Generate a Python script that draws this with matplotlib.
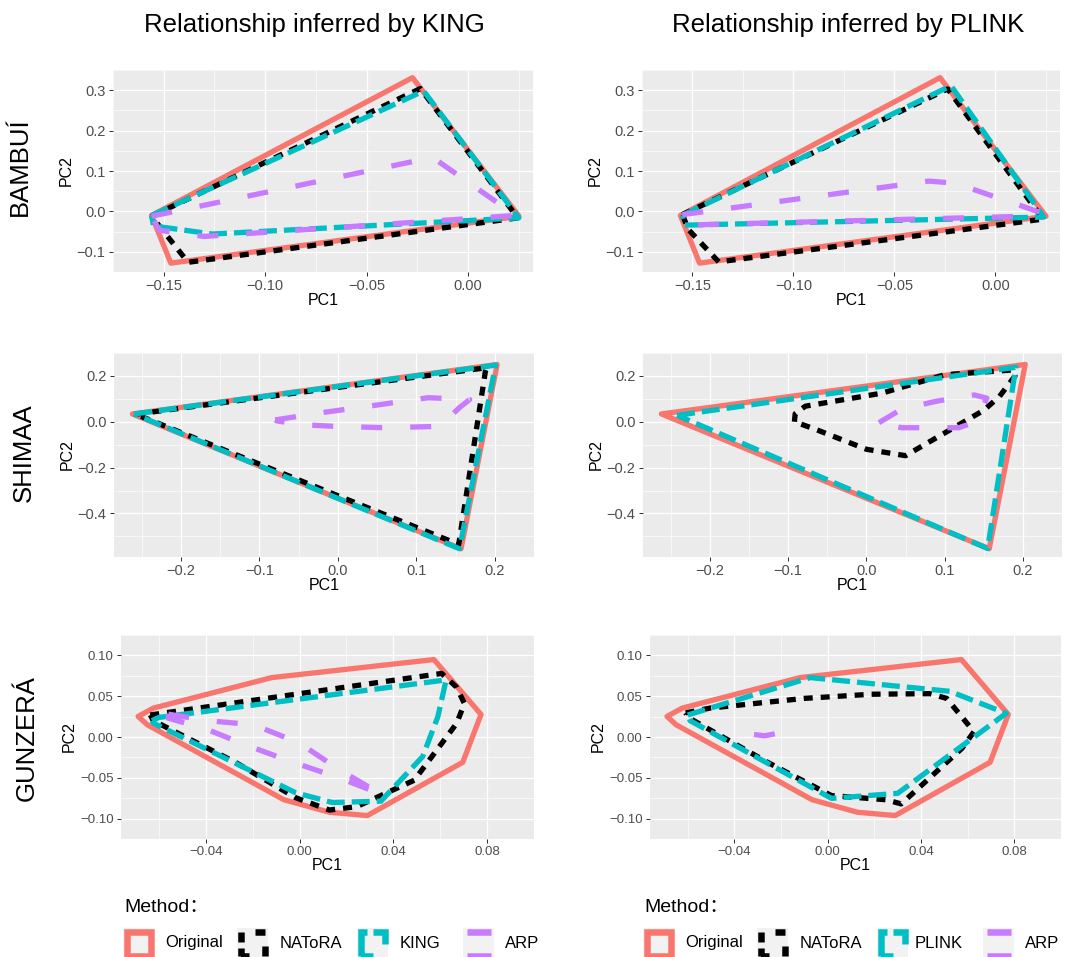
import matplotlib
matplotlib.use('Agg')
import matplotlib.pyplot as plt
from matplotlib.patches import Polygon, Rectangle

plt.rcParams['font.family'] = ['Liberation Sans', 'Noto Sans CJK SC', 'DejaVu Sans']
plt.rcParams['lines.scale_dashes'] = False

# ---------------- data (PC1, PC2 hull vertices) ----------------
original_bambui = [(-0.156, -0.010), (-0.0274, 0.331), (0.0251, -0.012), (-0.1465, -0.128)]
natora_bambui_king = [(-0.156, -0.012), (-0.0235, 0.304), (0.0245, -0.016), (-0.138, -0.126)]
king_bambui = [(-0.156, -0.010), (-0.0219, 0.298), (0.025, -0.016), (-0.126, -0.056), (-0.155, -0.036)]
arp_bambui_king = [(-0.156, -0.012), (-0.019, 0.132), (-0.015, 0.125), (0.0235, -0.010),
                   (-0.130, -0.062), (-0.152, -0.047)]
natora_bambui_plink = [(-0.155, -0.008), (-0.0236, 0.303), (0.0236, -0.019), (-0.137, -0.125),
                       (-0.152, -0.045)]
plink_bambui = [(-0.155, -0.010), (-0.022, 0.311), (0.024, -0.014), (-0.154, -0.034)]
arp_bambui_plink = [(-0.155, -0.008), (-0.033, 0.075), (-0.020, 0.070), (0.022, -0.002),
                    (0.015, -0.012), (-0.154, -0.034)]

original_shimaa = [(-0.262, 0.034), (0.203, 0.250), (0.157, -0.554)]
natora_shimaa_king = [(-0.258, 0.033), (0.190, 0.236), (0.188, 0.220), (0.154, -0.535)]
king_shimaa = [(-0.260, 0.034), (0.201, 0.247), (0.155, -0.554)]
arp_shimaa_king = [(-0.080, 0.008), (-0.020, 0.040), (0.050, 0.073), (0.115, 0.105), (0.168, 0.097),
                   (0.155, 0.062), (0.130, -0.020), (0.060, -0.026), (-0.010, -0.019),
                   (-0.050, -0.012), (-0.078, 0.004)]
natora_shimaa_plink = [(-0.092, 0.000), (-0.091, 0.035), (-0.078, 0.068), (0.020, 0.125),
                       (0.100, 0.205), (0.187, 0.226), (0.190, 0.200), (0.170, 0.110),
                       (0.150, 0.050), (0.050, -0.148), (0.000, -0.120), (-0.065, -0.033)]
plink_shimaa = [(-0.242, 0.028), (0.191, 0.238), (0.155, -0.553)]
arp_shimaa_plink = [(0.016, -0.004), (0.045, 0.055), (0.090, 0.090), (0.138, 0.117), (0.154, 0.103),
                    (0.142, 0.020), (0.130, -0.012), (0.118, -0.026), (0.045, -0.026)]

original_gunzera = [(-0.0689, 0.0252), (-0.0624, 0.0354), (-0.0119, 0.0728), (0.0573, 0.0949),
                    (0.0774, 0.0276), (0.0696, -0.0310), (0.0289, -0.0963), (0.0127, -0.0922),
                    (-0.0067, -0.0769), (-0.0650, 0.0150)]
natora_gunzera_king = [(-0.0637, 0.0270), (0.0606, 0.0779), (0.0670, 0.0610), (0.0703, 0.0410),
                       (0.0670, 0.0167), (0.0489, -0.0530), (0.0243, -0.0854), (0.0127, -0.0895),
                       (-0.0016, -0.0745), (-0.0274, -0.0310), (-0.0624, 0.0200)]
king_gunzera = [(-0.0630, 0.0200), (-0.0600, 0.0240), (0.0625, 0.0700), (0.0590, 0.0250),
                (0.0525, -0.0240), (0.0347, -0.0786), (0.0140, -0.0803), (-0.0016, -0.0684),
                (-0.0624, 0.0170)]
arp_gunzera_king = [(-0.0560, 0.0280), (-0.0390, 0.0200), (-0.0197, 0.0150), (-0.0003, -0.0070),
                    (0.0166, -0.0395), (0.0347, -0.0700), (0.0166, -0.0497), (-0.0028, -0.0310),
                    (-0.0223, -0.0105), (-0.0400, 0.0099), (-0.0560, 0.0230)]
natora_gunzera_plink = [(-0.0609, 0.0296), (-0.0505, 0.0354), (-0.0101, 0.0473), (0.0185, 0.0524),
                        (0.0438, 0.0531), (0.0510, 0.0473), (0.0588, 0.0200), (0.0627, 0.0065),
                        (0.0575, -0.0140), (0.0315, -0.0820), (0.0250, -0.0769), (0.0016, -0.0718),
                        (-0.0258, -0.0310), (-0.0596, 0.0235)]
plink_gunzera = [(-0.0600, 0.0270), (-0.0075, 0.0728), (0.0523, 0.0560), (0.0765, 0.0290),
                 (0.0300, -0.0690), (0.0016, -0.0752), (-0.0590, 0.0200)]
arp_gunzera_plink = [(-0.0316, 0.0030), (-0.0270, 0.0015), (-0.0225, 0.0040)]

# axes ticks / labels
bambui_xticks = [-0.15, -0.10, -0.05, 0.00]
bambui_xlabels = ['\u22120.15', '\u22120.10', '\u22120.05', '0.00']
bambui_yticks = [-0.1, 0.0, 0.1, 0.2, 0.3]
bambui_ylabels = ['\u22120.1', '0.0', '0.1', '0.2', '0.3']
shimaa_xticks = [-0.2, -0.1, 0.0, 0.1, 0.2]
shimaa_xlabels = ['\u22120.2', '\u22120.1', '0.0', '0.1', '0.2']
shimaa_yticks = [-0.4, -0.2, 0.0, 0.2]
shimaa_ylabels = ['\u22120.4', '\u22120.2', '0.0', '0.2']
gunzera_xticks = [-0.04, 0.00, 0.04, 0.08]
gunzera_xlabels = ['\u22120.04', '0.00', '0.04', '0.08']
gunzera_yticks = [-0.10, -0.05, 0.00, 0.05, 0.10]
gunzera_ylabels = ['\u22120.10', '\u22120.05', '0.00', '0.05', '0.10']

bambui_xlim = (-0.1655, 0.032)
bambui_ylim = (-0.150, 0.347)
shimaa_xlim = (-0.2855, 0.2262)
shimaa_ylim = (-0.590, 0.284)
gunzera_xlim = (-0.0762, 0.0841)
gunzera_ylim = (-0.1058, 0.1044)

populations = ['BAMBUÍ', 'SHIMAA', 'GUNZERÁ']
tools = ['KING', 'PLINK']
method_labels_king = ['Original', 'NAToRA', 'KING', 'ARP']
method_labels_plink = ['Original', 'NAToRA', 'PLINK', 'ARP']

# ---------------- styling ----------------
W, H, DPI = 1065, 957, 100
PX = 72.0 / DPI
colors = ['#F8766D', '#000000', '#00BFC4', '#C77CFF']
dashes = ['solid', (0, (9 * PX, 8 * PX)), (0, (18 * PX, 7 * PX)), (0, (21 * PX, 28 * PX))]
# dash patterns for the legend key borders (perimeter of the inner square = 96 px)
key_dashes = ['solid',
              (8 * PX, (16 * PX, 16 * PX, 10 * PX, 14 * PX, 10 * PX, 14 * PX, 10 * PX, 6 * PX)),
              (30 * PX, (42 * PX, 24 * PX, 24 * PX, 6 * PX)),
              (0, (24 * PX, 24 * PX))]
LW = 5.3 * PX
row_ticksize = [10.5, 10.5, 9.5]

fig = plt.figure(figsize=(W / DPI, H / DPI), dpi=DPI)
fig.patch.set_facecolor('white')


def fig_axes(l, t, r, b):
    return fig.add_axes([l / W, 1 - b / H, (r - l) / W, (b - t) / H])


panels = [
    (0, 0, (113, 70, 533, 272), [original_bambui, natora_bambui_king, king_bambui, arp_bambui_king],
     bambui_xlim, bambui_ylim, bambui_xticks, bambui_xlabels, bambui_yticks, bambui_ylabels),
    (0, 1, (642, 70, 1060, 272), [original_bambui, natora_bambui_plink, plink_bambui, arp_bambui_plink],
     bambui_xlim, bambui_ylim, bambui_xticks, bambui_xlabels, bambui_yticks, bambui_ylabels),
    (1, 0, (114, 353, 534, 557), [original_shimaa, natora_shimaa_king, king_shimaa, arp_shimaa_king],
     shimaa_xlim, shimaa_ylim, shimaa_xticks, shimaa_xlabels, shimaa_yticks, shimaa_ylabels),
    (1, 1, (643, 353, 1062, 557), [original_shimaa, natora_shimaa_plink, plink_shimaa, arp_shimaa_plink],
     shimaa_xlim, shimaa_ylim, shimaa_xticks, shimaa_xlabels, shimaa_yticks, shimaa_ylabels),
    (2, 0, (121, 635, 534, 839), [original_gunzera, natora_gunzera_king, king_gunzera, arp_gunzera_king],
     gunzera_xlim, gunzera_ylim, gunzera_xticks, gunzera_xlabels, gunzera_yticks, gunzera_ylabels),
    (2, 1, (650, 635, 1061, 839), [original_gunzera, natora_gunzera_plink, plink_gunzera, arp_gunzera_plink],
     gunzera_xlim, gunzera_ylim, gunzera_xticks, gunzera_xlabels, gunzera_yticks, gunzera_ylabels),
]

for row, col, box, series, xlim, ylim, xt, xl, yt, yl in panels:
    ax = fig_axes(*box)
    ax.set_facecolor('#EBEBEB')
    for s in ax.spines.values():
        s.set_visible(False)
    ax.set_xlim(*xlim)
    ax.set_ylim(*ylim)
    ax.set_xticks(xt)
    ax.set_xticklabels(xl)
    ax.set_yticks(yt)
    ax.set_yticklabels(yl)
    xminor = [(a + b) / 2 for a, b in zip(xt[:-1], xt[1:])]
    xminor = [xt[0] - (xt[1] - xt[0]) / 2] + xminor + [xt[-1] + (xt[1] - xt[0]) / 2]
    yminor = [(a + b) / 2 for a, b in zip(yt[:-1], yt[1:])]
    yminor = [yt[0] - (yt[1] - yt[0]) / 2] + yminor + [yt[-1] + (yt[1] - yt[0]) / 2]
    ax.set_xticks(xminor, minor=True)
    ax.set_yticks(yminor, minor=True)
    ax.tick_params(which='minor', length=0)
    ax.tick_params(which='major', length=4 * PX, width=1 * PX, color='#333333',
                   labelsize=row_ticksize[row], labelcolor='#4D4D4D', pad=2.5)
    ax.grid(which='major', color='white', linewidth=1.2 * PX)
    ax.grid(which='minor', color='white', linewidth=0.6 * PX)
    ax.set_axisbelow(True)
    for i, pts in enumerate(series):
        poly = Polygon(pts, closed=True, fill=False, edgecolor=colors[i],
                       linewidth=LW, linestyle=dashes[i], joinstyle='round',
                       capstyle='butt', zorder=3 + i)
        ax.add_patch(poly)
    ax.set_xlabel('PC1', fontsize=11.5, labelpad=0)
    ax.set_ylabel('PC2', fontsize=11.5, labelpad=2)

# column titles
fig.text(314 / W, 1 - 25 / H, 'Relationship inferred by ' + tools[0], ha='center', va='center', fontsize=18.5)
fig.text(848 / W, 1 - 25 / H, 'Relationship inferred by ' + tools[1], ha='center', va='center', fontsize=18.5)

# row labels
row_label_pos = [(20, 167), (24, 453), (27, 738)]
for name, (x, y) in zip(populations, row_label_pos):
    fig.text(x / W, 1 - y / H, name, ha='center', va='center', rotation=90, fontsize=18.5)


# legends
def draw_key(x, y, color, ls):
    size = 31
    fig.patches.append(Rectangle((x / W, 1 - (y + size) / H), size / W, size / H,
                                 transform=fig.transFigure, facecolor='#F2F2F2',
                                 edgecolor='none', zorder=1))
    inset = 3.5
    fig.patches.append(Rectangle(((x + inset) / W, 1 - (y + size - inset) / H),
                                 (size - 2 * inset) / W, (size - 2 * inset) / H,
                                 transform=fig.transFigure, facecolor='none',
                                 edgecolor=color, linewidth=6.5 * PX, linestyle=ls,
                                 joinstyle='miter', capstyle='butt', zorder=2))


def draw_legend(x0, key_xs, label_xs, labels):
    fig.text(x0 / W, 1 - 908 / H, 'Method：', ha='left', va='center', fontsize=14)
    for i, (kx, lx, lab) in enumerate(zip(key_xs, label_xs, labels)):
        draw_key(kx, 928, colors[i], key_dashes[i])
        fig.text(lx / W, 1 - 943 / H, lab, ha='left', va='center', fontsize=12)


draw_legend(124, [123, 237, 357, 463], [165, 280, 400, 505], method_labels_king)
draw_legend(644, [643, 757, 877, 983], [685, 800, 915, 1025], method_labels_plink)

fig.savefig('out.png', dpi=DPI)
